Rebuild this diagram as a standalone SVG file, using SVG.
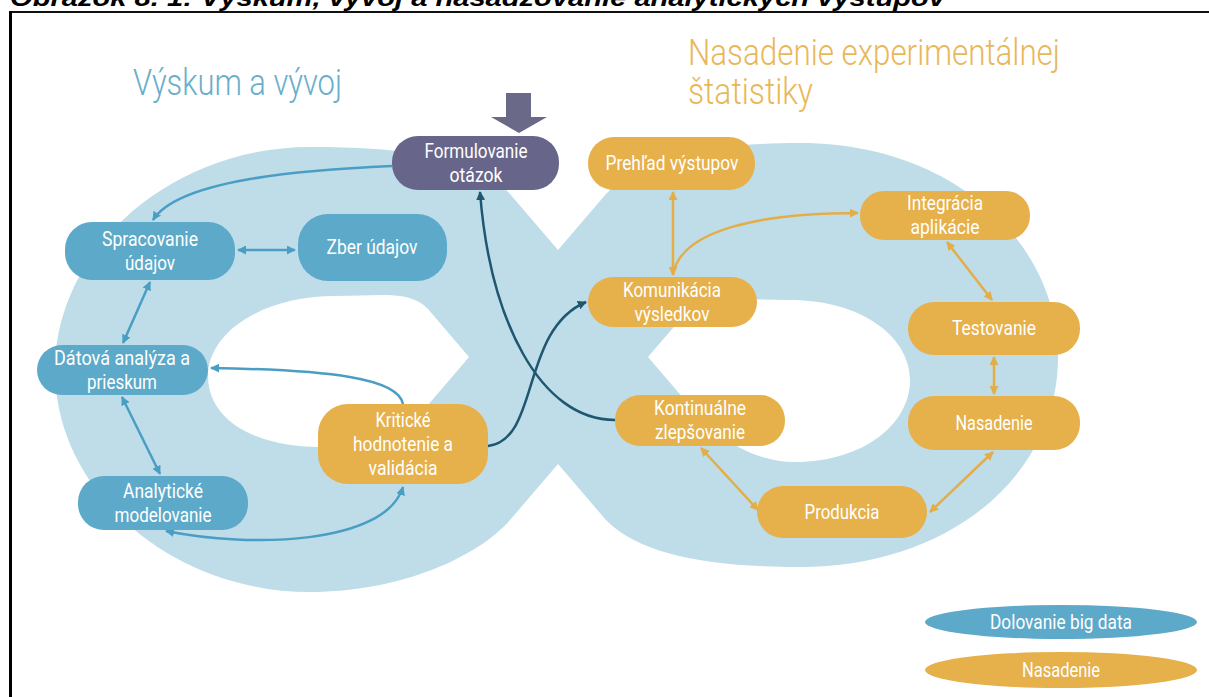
<svg xmlns="http://www.w3.org/2000/svg" width="1209" height="697" viewBox="0 0 1209 697">
<defs>
<style>
.nt{font-family:Roboto,"Liberation Sans",sans-serif;font-size:21px;fill:#ffffff;text-anchor:middle}
.tt{font-family:Roboto,"Liberation Sans",sans-serif;font-size:36px;font-weight:300}
.blue{fill:#5ca9c9}
.orange{fill:#e6b04a}
.cb{fill:none;stroke:#4a9ec3;stroke-width:2.5}
.cd{fill:none;stroke:#1f5670;stroke-width:2.5}
.co{fill:none;stroke:#e3ae48;stroke-width:2.5}
</style>
<marker id="ab" viewBox="0 0 10 10" refX="9" refY="5" markerWidth="9" markerHeight="9" markerUnits="userSpaceOnUse" orient="auto-start-reverse"><path d="M0,0 L10,5 L0,10 z" fill="#4a9ec3"/></marker>
<marker id="ad" viewBox="0 0 10 10" refX="9" refY="5" markerWidth="9" markerHeight="9" markerUnits="userSpaceOnUse" orient="auto-start-reverse"><path d="M0,0 L10,5 L0,10 z" fill="#1f5670"/></marker>
<marker id="ao" viewBox="0 0 10 10" refX="9" refY="5" markerWidth="9" markerHeight="9" markerUnits="userSpaceOnUse" orient="auto-start-reverse"><path d="M0,0 L10,5 L0,10 z" fill="#e3ae48"/></marker>
</defs>
<rect width="1209" height="697" fill="#ffffff"/>
<text x="10" y="6" font-family="'Liberation Sans',Arial,sans-serif" font-size="24" font-weight="bold" font-style="italic" fill="#000" textLength="935" lengthAdjust="spacingAndGlyphs">Obrázok 8. 1: Výskum, vývoj a nasadzovanie analytických výstupov</text>
<line x1="10" y1="12" x2="1209" y2="12" stroke="#111" stroke-width="2"/>
<line x1="10.5" y1="11" x2="10.5" y2="697" stroke="#000" stroke-width="3"/>

<g id="infinity">
<path fill="#bedde8" fill-rule="evenodd" d="M558,250 L510,194 C478,156 400,147 310,147 C170,147 55,250 55,370 C55,490 170,592 310,592 C400,592 478,557 510,520 L558,464 L606,520 C640,555 710,567 800,567 C950,567 1058,475 1058,357 C1058,240 950,143 800,143 C710,143 640,158 606,194 Z M469,357 L428,309 C410,290 380,296 335,296 C262,296 208,333 208,376 C208,420 255,447 320,447 C362,447 408,428 428,405 Z M648,357 L685,314 C702,294 745,300 790,300 C862,300 910,337 910,380 C910,425 862,462 795,462 C745,462 708,428 690,406 Z"/>
</g>

<g id="title-left"><text class="tt" x="133" y="95" fill="#68aecb" textLength="209" lengthAdjust="spacingAndGlyphs">Výskum a vývoj</text></g>
<g id="title-right">
<text class="tt" x="688" y="65" fill="#e8b858" textLength="372" lengthAdjust="spacingAndGlyphs">Nasadenie experimentálnej</text>
<text class="tt" x="688" y="104" fill="#e8b858" textLength="125" lengthAdjust="spacingAndGlyphs">štatistiky</text>
</g>

<g id="connectors">
<path class="cb" d="M392,166 C300,170 178,180 153,220" marker-end="url(#ab)"/>
<path class="cb" d="M238,250 L295,250" marker-start="url(#ab)" marker-end="url(#ab)"/>
<path class="cb" d="M150,282 L123,343" marker-start="url(#ab)" marker-end="url(#ab)"/>
<path class="cb" d="M122,397 L160,474" marker-start="url(#ab)" marker-end="url(#ab)"/>
<path class="cb" d="M166,531 C250,548 385,545 403,487" marker-start="url(#ab)" marker-end="url(#ab)"/>
<path class="cb" d="M403,404 C398,378 330,370 211,368" marker-end="url(#ab)"/>
<path class="cd" d="M615,420 C540,420 490,320 480,192" marker-end="url(#ad)"/>
<path class="cd" d="M488,446 C540,440 520,330 586,302" marker-end="url(#ad)"/>
<path class="co" d="M673,192 L673,275" marker-start="url(#ao)" marker-end="url(#ao)"/>
<path class="co" d="M673,275 C680,230 760,213 858,213" marker-end="url(#ao)"/>
<path class="co" d="M947,242 L992,300" marker-start="url(#ao)" marker-end="url(#ao)"/>
<path class="co" d="M994,357 L994,394" marker-start="url(#ao)" marker-end="url(#ao)"/>
<path class="co" d="M993,452 L930,512" marker-start="url(#ao)" marker-end="url(#ao)"/>
<path class="co" d="M701,448 L758,510" marker-start="url(#ao)" marker-end="url(#ao)"/>
</g>

<g id="start-arrow"><path d="M506,93 L531,93 L531,117 L547,117 L519,133 L491,117 L506,117 Z" fill="#6a6987"/></g>

<g id="n-formulovanie"><rect x="392" y="136" width="167" height="54" rx="26" fill="#67668a"/>
<text class="nt" x="476" y="158" textLength="103" lengthAdjust="spacingAndGlyphs">Formulovanie</text>
<text class="nt" x="476" y="182" textLength="53" lengthAdjust="spacingAndGlyphs">otázok</text></g>

<g id="n-spracovanie"><rect class="blue" x="65" y="222" width="170" height="58" rx="27"/>
<text class="nt" x="150" y="246" textLength="96" lengthAdjust="spacingAndGlyphs">Spracovanie</text>
<text class="nt" x="150" y="270" textLength="50" lengthAdjust="spacingAndGlyphs">údajov</text></g>

<g id="n-zber"><rect class="blue" x="298" y="214" width="149" height="67" rx="30"/>
<text class="nt" x="372" y="254" textLength="91" lengthAdjust="spacingAndGlyphs">Zber údajov</text></g>

<g id="n-datova"><rect class="blue" x="37" y="345" width="171" height="50" rx="25"/>
<text class="nt" x="122" y="365" textLength="136" lengthAdjust="spacingAndGlyphs">Dátová analýza a</text>
<text class="nt" x="122" y="389" textLength="70" lengthAdjust="spacingAndGlyphs">prieskum</text></g>

<g id="n-analyticke"><rect class="blue" x="78" y="476" width="170" height="54" rx="26"/>
<text class="nt" x="163" y="498" textLength="80" lengthAdjust="spacingAndGlyphs">Analytické</text>
<text class="nt" x="163" y="522" textLength="97" lengthAdjust="spacingAndGlyphs">modelovanie</text></g>

<g id="n-kriticke"><rect class="orange" x="318" y="404" width="170" height="80" rx="30"/>
<text class="nt" x="403" y="427" textLength="55" lengthAdjust="spacingAndGlyphs">Kritické</text>
<text class="nt" x="403" y="451" textLength="100" lengthAdjust="spacingAndGlyphs">hodnotenie a</text>
<text class="nt" x="403" y="475" textLength="69" lengthAdjust="spacingAndGlyphs">validácia</text></g>

<g id="n-prehlad"><rect class="orange" x="588" y="137" width="167" height="53" rx="26"/>
<text class="nt" x="672" y="170" textLength="133" lengthAdjust="spacingAndGlyphs">Prehľad výstupov</text></g>

<g id="n-integracia"><rect class="orange" x="860" y="191" width="170" height="49" rx="24"/>
<text class="nt" x="945" y="210" textLength="76" lengthAdjust="spacingAndGlyphs">Integrácia</text>
<text class="nt" x="945" y="234" textLength="69" lengthAdjust="spacingAndGlyphs">aplikácie</text></g>

<g id="n-komunikacia"><rect class="orange" x="588" y="277" width="169" height="50" rx="25"/>
<text class="nt" x="672" y="297" textLength="98" lengthAdjust="spacingAndGlyphs">Komunikácia</text>
<text class="nt" x="672" y="321" textLength="75" lengthAdjust="spacingAndGlyphs">výsledkov</text></g>

<g id="n-testovanie"><rect class="orange" x="908" y="302" width="172" height="53" rx="26"/>
<text class="nt" x="994" y="335" textLength="84" lengthAdjust="spacingAndGlyphs">Testovanie</text></g>

<g id="n-kontinualne"><rect class="orange" x="615" y="395" width="170" height="51" rx="25"/>
<text class="nt" x="700" y="415" textLength="92" lengthAdjust="spacingAndGlyphs">Kontinuálne</text>
<text class="nt" x="700" y="439" textLength="90" lengthAdjust="spacingAndGlyphs">zlepšovanie</text></g>

<g id="n-nasadenie"><rect class="orange" x="908" y="396" width="172" height="54" rx="26"/>
<text class="nt" x="994" y="430" textLength="77" lengthAdjust="spacingAndGlyphs">Nasadenie</text></g>

<g id="n-produkcia"><rect class="orange" x="757" y="486" width="170" height="52" rx="26"/>
<text class="nt" x="842" y="519" textLength="75" lengthAdjust="spacingAndGlyphs">Produkcia</text></g>

<g id="legend-dolovanie"><ellipse class="blue" cx="1061" cy="622" rx="136" ry="17"/>
<text class="nt" x="1061" y="629" textLength="142" lengthAdjust="spacingAndGlyphs">Dolovanie big data</text></g>
<g id="legend-nasadenie"><ellipse class="orange" cx="1061" cy="670" rx="136" ry="18"/>
<text class="nt" x="1061" y="677" textLength="78" lengthAdjust="spacingAndGlyphs">Nasadenie</text></g>
</svg>
